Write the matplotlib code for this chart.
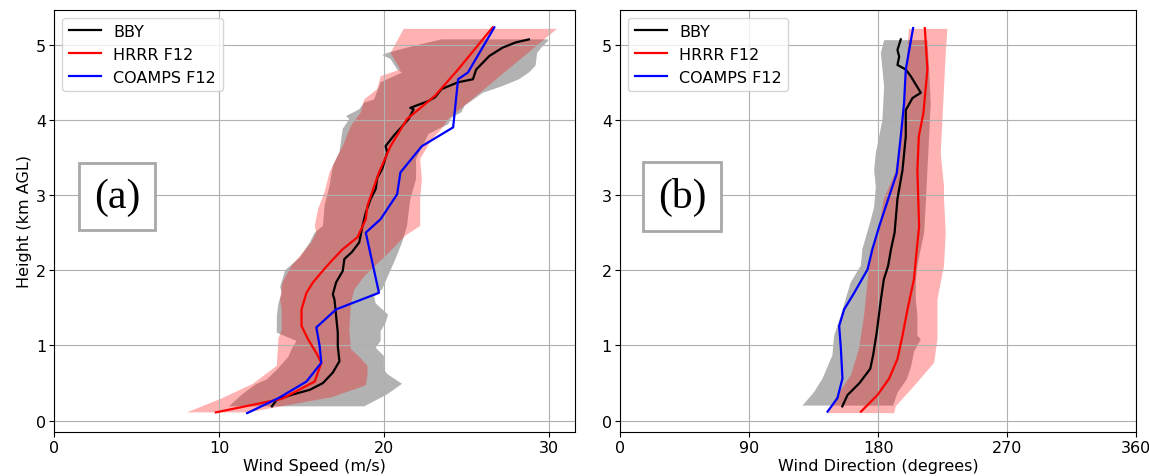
import numpy as np
import matplotlib.pyplot as plt

# ---- wind speed profiles (m/s) vs height (km AGL) ----
bby_spd_h = [0.19, 0.28, 0.35, 0.41, 0.50, 0.64, 0.79, 0.99, 1.17, 1.39, 1.61, 1.68, 1.84, 1.99,
             2.15, 2.24, 2.37, 2.59, 2.77, 2.95, 3.08, 3.23, 3.35, 3.57, 3.65, 3.79, 4.01, 4.14,
             4.16, 4.25, 4.30, 4.41, 4.50, 4.54, 4.67, 4.85, 4.96, 5.03, 5.07]
bby_spd = [13.2, 13.5, 14.5, 15.5, 16.3, 16.9, 17.3, 17.2, 17.2, 17.1, 17.0, 16.9, 17.1, 17.5,
           17.6, 18.05, 18.5, 18.7, 18.9, 19.2, 19.5, 19.6, 19.9, 20.2, 20.1, 20.6, 21.5, 21.8,
           21.6, 22.7, 23.1, 23.5, 24.5, 25.4, 25.6, 26.4, 27.2, 28.0, 28.8]

hrrr_spd_h = [0.11, 0.29, 0.52, 0.77, 0.90, 1.08, 1.26, 1.48, 1.70, 1.84, 1.97, 2.12, 2.28, 2.44,
              2.68, 2.86, 3.30, 3.65, 4.01, 4.32, 4.67, 5.23]
hrrr_spd = [9.8, 13.8, 15.8, 16.2, 15.9, 15.4, 15.0, 15.0, 15.3, 15.7, 16.2, 16.8, 17.5, 18.4,
            18.9, 19.0, 19.7, 20.4, 21.4, 23.1, 24.5, 26.6]

coamps_spd_h = [0.10, 0.30, 0.52, 0.77, 0.99, 1.24, 1.48, 1.70, 2.50, 2.68, 3.01, 3.30, 3.65,
                3.90, 4.54, 4.63, 5.23]
coamps_spd = [11.7, 13.6, 15.3, 16.2, 16.1, 15.9, 17.1, 19.7, 18.9, 19.8, 20.8, 21.0, 22.3,
              24.2, 24.5, 25.1, 26.7]

# BBY speed range (min / max envelope)
bby_spd_lo_h = [0.19, 0.35, 0.48, 0.55, 0.70, 0.85, 0.95, 1.06, 1.17, 1.39, 1.56, 1.70, 1.78,
                1.92, 2.00, 2.17, 2.37, 2.50, 2.59, 2.86, 3.12, 3.39, 3.57, 3.88, 4.01, 4.05,
                4.14, 4.23, 4.27, 4.50, 4.63, 4.67, 4.81, 4.86, 4.89, 4.96, 5.03, 5.07]
bby_spd_lo = [10.6, 11.4, 12.2, 12.9, 13.6, 14.2, 14.4, 14.7, 13.5, 13.5, 13.6, 13.8, 13.7,
              13.9, 14.0, 14.9, 15.5, 15.8, 16.3, 16.4, 16.7, 16.9, 17.3, 17.5, 17.9, 17.7,
              18.5, 18.8, 19.4, 19.8, 21.1, 20.8, 20.4, 19.9, 20.2, 21.4, 22.7, 23.5]
bby_spd_hi_h = [0.19, 0.35, 0.49, 0.62, 0.68, 0.86, 0.97, 1.06, 1.19, 1.30, 1.41, 1.56, 1.65,
                1.75, 1.95, 2.15, 2.37, 2.59, 2.95, 3.21, 3.48, 3.81, 3.88, 3.94, 4.03, 4.10,
                4.19, 4.25, 4.36, 4.45, 4.54, 4.63, 4.72, 4.89, 4.96, 5.05, 5.07]
bby_spd_hi = [18.8, 20.2, 21.1, 20.2, 20.0, 20.0, 19.5, 19.8, 19.8, 20.1, 20.25, 19.5, 19.4,
              19.9, 20.3, 20.7, 21.1, 21.4, 21.6, 21.95, 21.95, 22.7, 23.3, 23.9, 24.1, 24.7,
              24.9, 25.3, 26.0, 27.2, 28.2, 28.8, 29.2, 29.3, 29.55, 29.96, 29.96]

# HRRR speed range
hrrr_spd_lo_h = [0.11, 0.30, 0.49, 0.73, 1.10, 1.20, 1.48, 1.61, 1.84, 2.06, 2.19, 2.37, 2.50,
                 2.59, 2.81, 3.04, 3.30, 3.48, 3.65, 3.92, 4.10, 4.27, 4.41, 4.58, 4.67, 4.89,
                 5.21]
hrrr_spd_lo = [8.05, 10.2, 12.05, 13.5, 13.6, 13.8, 13.8, 13.7, 13.85, 14.4, 14.9, 15.6, 15.9,
               15.8, 16.0, 16.4, 16.7, 17.1, 17.5, 18.0, 18.6, 18.8, 19.6, 19.8, 21.0, 20.4,
               21.2]
hrrr_spd_hi_h = [0.11, 0.20, 0.31, 0.47, 0.60, 0.73, 0.85, 0.95, 1.21, 1.56, 1.74, 1.92, 2.19,
                 2.46, 2.59, 2.95, 3.21, 3.48, 3.74, 3.88, 4.01, 5.21]
hrrr_spd_hi = [11.8, 14.0, 16.8, 18.9, 19.0, 19.0, 18.5, 18.0, 17.9, 18.0, 18.2, 18.8, 20.1,
               21.3, 22.2, 22.2, 22.3, 22.2, 22.9, 23.5, 23.9, 30.5]

# ---- wind direction profiles (degrees) ----
bby_dir_h = [0.19, 0.34, 0.50, 0.69, 0.87, 1.17, 1.62, 1.88, 2.06, 2.28, 2.50, 2.95, 3.33, 3.78,
             4.13, 4.29, 4.36, 4.58, 4.67, 4.73, 4.84, 4.93, 5.07]
bby_dir = [155, 158.6, 167, 174.5, 176.5, 179, 182, 184, 187, 189, 191.5, 193.5, 197, 199.3,
           199.3, 204, 209.8, 202.8, 199.3, 193.5, 194.7, 193.5, 195.8]

hrrr_dir_h = [0.12, 0.34, 0.56, 0.82, 1.13, 1.48, 1.88, 2.28, 2.58, 3.33, 3.78, 4.09, 4.67, 5.22]
hrrr_dir = [168, 179.5, 187.7, 193.5, 197, 200.5, 205, 207, 208.6, 207.4, 208.4, 211.6, 214.4,
            212.6]

coamps_dir_h = [0.12, 0.30, 0.56, 0.96, 1.26, 1.48, 1.70, 2.01, 2.28, 2.58, 3.29, 3.78, 4.22,
                4.67, 5.22]
coamps_dir = [144.7, 151.6, 155.1, 154, 152.8, 156.3, 163.3, 172.6, 176, 180.7, 193, 195.8,
              198.1, 199.3, 204.4]

bby_dir_lo_h = [0.20, 0.38, 0.56, 0.87, 1.13, 1.40, 1.62, 1.84, 2.06, 2.28, 2.67, 2.84, 3.11,
                3.33, 3.56, 3.78, 4.00, 4.44, 4.89, 5.06]
bby_dir_lo = [127.2, 135.3, 141.2, 148.1, 149.3, 154, 157.4, 160.9, 167.9, 169, 174.9, 177.2,
              178.4, 177.2, 178.4, 180.7, 183, 184.2, 181.9, 184.2]
bby_dir_hi_h = [0.20, 0.37, 0.55, 0.72, 0.92, 1.08, 1.13, 1.40, 1.61, 1.84, 2.06, 2.50, 2.89,
                3.33, 3.78, 4.22, 4.67, 5.06]
bby_dir_hi = [190.5, 193.5, 200, 203, 205.1, 209.8, 207.4, 207.4, 206.3, 206.3, 207.4, 212.1,
              213.3, 214.4, 215.6, 216.7, 215.6, 214.4]

hrrr_dir_lo_h = [0.10, 0.34, 0.60, 0.96, 1.40, 1.84, 2.28, 2.50, 2.95, 3.30, 3.80, 4.20, 4.67,
                 5.21]
hrrr_dir_lo = [144.7, 151.6, 160.9, 166.7, 170.2, 172.6, 174.9, 180, 184, 192, 196, 198, 199.5,
               201.5]
hrrr_dir_hi_h = [0.10, 0.19, 0.46, 0.77, 1.08, 1.61, 2.06, 2.50, 2.95, 3.11, 3.56, 4.00, 4.44,
                 4.89, 5.21]
hrrr_dir_hi = [191.2, 192.3, 205.1, 219.1, 221.4, 221.4, 226, 227.2, 226, 226, 223.7, 224.9,
               226, 227.2, 228.4]


def envelope(ax, lo, lo_h, hi, hi_h, **kw):
    xs = np.concatenate([lo, hi[::-1]])
    ys = np.concatenate([lo_h, hi_h[::-1]])
    ax.fill(xs, ys, lw=0, **kw)


plt.rcParams['font.size'] = 11.5
plt.rcParams['xtick.major.pad'] = 2
plt.rcParams['ytick.major.pad'] = 2.5
plt.rcParams['lines.linewidth'] = 1.6

fig = plt.figure(figsize=(11.49, 4.77), dpi=100)
ax1 = fig.add_axes([0.0473, 0.0916, 0.4532, 0.886])
ax2 = fig.add_axes([0.5398, 0.0916, 0.4489, 0.886])

# (a) wind speed
envelope(ax1, bby_spd_lo, bby_spd_lo_h, bby_spd_hi, bby_spd_hi_h, color='grey', alpha=0.6)
envelope(ax1, hrrr_spd_lo, hrrr_spd_lo_h, hrrr_spd_hi, hrrr_spd_hi_h, color='red', alpha=0.3)
ax1.plot(bby_spd, bby_spd_h, 'k', label='BBY')
ax1.plot(hrrr_spd, hrrr_spd_h, 'r', label='HRRR F12')
ax1.plot(coamps_spd, coamps_spd_h, 'b', label='COAMPS F12')
ax1.set_xlim(0, 31.6)
ax1.set_xticks([0, 10, 20, 30])
ax1.set_xlabel('Wind Speed (m/s)', labelpad=2)
ax1.set_ylabel('Height (km AGL)', labelpad=3)

# (b) wind direction
envelope(ax2, bby_dir_lo, bby_dir_lo_h, bby_dir_hi, bby_dir_hi_h, color='grey', alpha=0.6)
envelope(ax2, hrrr_dir_lo, hrrr_dir_lo_h, hrrr_dir_hi, hrrr_dir_hi_h, color='red', alpha=0.3)
ax2.plot(bby_dir, bby_dir_h, 'k', label='BBY')
ax2.plot(hrrr_dir, hrrr_dir_h, 'r', label='HRRR F12')
ax2.plot(coamps_dir, coamps_dir_h, 'b', label='COAMPS F12')
ax2.set_xlim(0, 360)
ax2.set_xticks([0, 90, 180, 270, 360])
ax2.set_xlabel('Wind Direction (degrees)', labelpad=2)

for ax, tag in [(ax1, '(a)'), (ax2, '(b)')]:
    ax.set_ylim(-0.155, 5.465)
    ax.set_yticks([0, 1, 2, 3, 4, 5])
    ax.grid(True)
    ax.legend(loc='upper left')
    ax.text(0.12, 0.558, tag, transform=ax.transAxes, ha='center', va='center',
            fontsize=30, family='Liberation Serif',
            bbox=dict(boxstyle='square,pad=0.35', facecolor='white',
                      edgecolor='#a8a8a8', linewidth=2))

fig.savefig('out.png', dpi=100)
